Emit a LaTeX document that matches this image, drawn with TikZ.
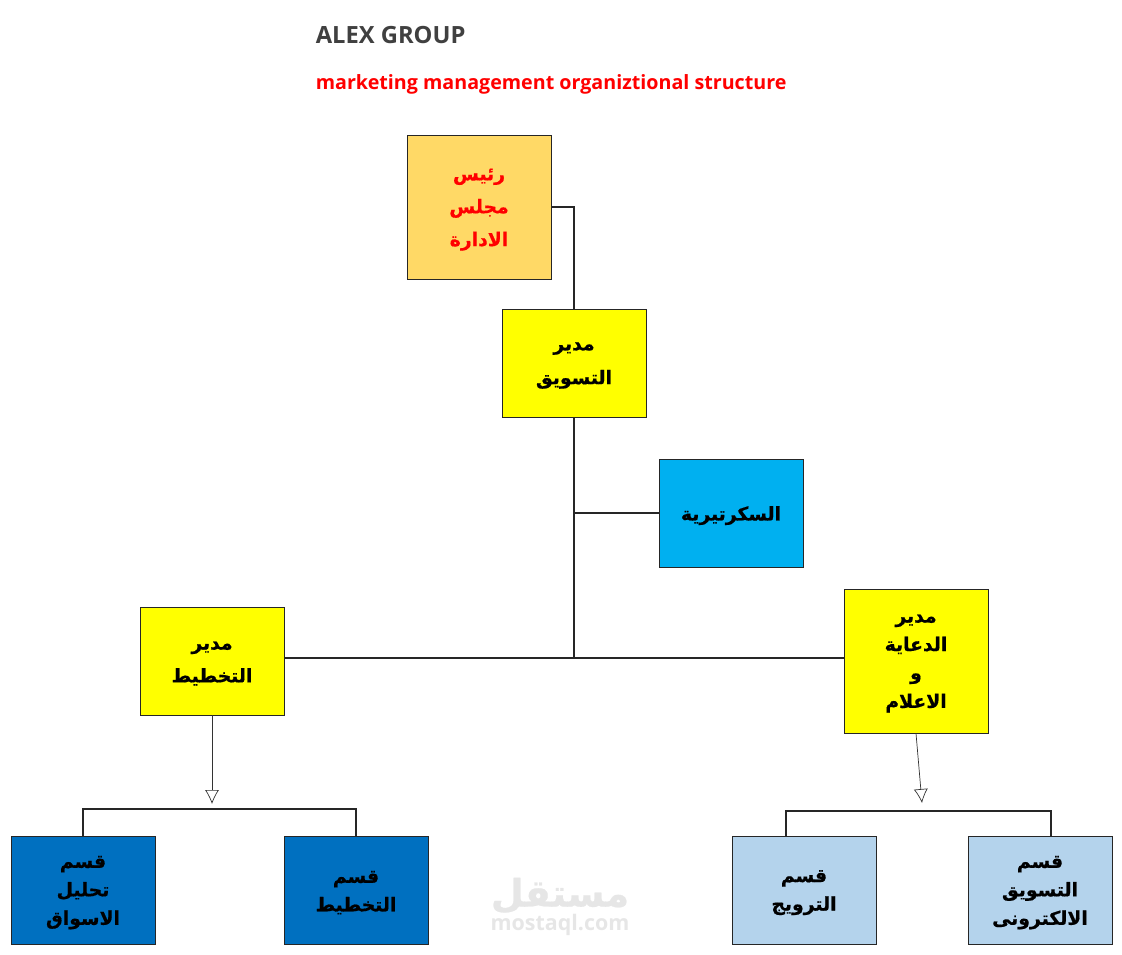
\documentclass[tikz,border=0pt]{standalone}
\usepackage{fontspec}
\usepackage{xcolor}
\usetikzlibrary{arrows.meta,calc,positioning}
\setmainfont{Open Sans}
\newfontfamily\arabicfont[Script=Arabic,BoldFeatures={FakeBold=0.6}]{DejaVu Sans}
\TeXXeTstate=1
\newcommand{\arline}[1]{\raisebox{-1.5pt}[\height][\depth]{\beginR #1\endR}}
\definecolor{chairfill}{HTML}{FFD966}
\definecolor{bossfill}{HTML}{FFFF00}
\definecolor{secfill}{HTML}{00B0F0}
\definecolor{deptdark}{HTML}{0070C0}
\definecolor{deptlight}{HTML}{B4D3EC}
\definecolor{titlegray}{HTML}{404040}
\definecolor{titlered}{HTML}{FF0000}
\definecolor{markgray}{HTML}{E6E6E6}

\begin{document}
\begin{tikzpicture}[x = 0.02cm, y = -0.02cm]
    \tikzset{
        orgbox/.style = {draw = black!85, line width = 0.5pt, minimum width = 2.88cm, minimum height = 2.16cm, inner sep = 0pt, align = center, arfont = 16.2},
        arfont/.style = {font = \arabicfont\bfseries\fontsize{10.7}{#1}\selectfont},
        tallbox/.style = {orgbox, minimum height = 2.88cm},
        link/.style = {draw = black!85, line width = 0.6pt},
        openarrow/.style = {draw = black!80, line width = 0.4pt, -{Latex[open, length = 14*0.02cm, width = 14*0.02cm]}}
    }
    \useasboundingbox (0,0) rectangle (1122,955);

    % titles
    \node[anchor = west, inner sep = 0pt, text = titlegray, font = \bfseries\fontsize{13.5}{16}\selectfont] (Title) at (315.5,35) {ALEX GROUP};
    \node[anchor = west, inner sep = 0pt, text = titlered, font = \bfseries\fontsize{11.2}{14}\selectfont] (SubTitle) at (315.5,84) {marketing management organiztional structure};

    % boxes
    \node[tallbox, fill = chairfill, text = titlered, arfont = 18.7] (Chair) at (479,207) {\arline{رئيس}\\ \arline{مجلس}\\ \arline{الادارة}};
    \node[orgbox, fill = bossfill, arfont = 19.3] (Marketing) at (574,363) {\arline{مدير}\\ \arline{التسويق}};
    \node[orgbox, fill = secfill] (Secretary) at (731,513) {\arline{السكرتيرية}};
    \node[orgbox, fill = bossfill, arfont = 18.7] (Planning) at (212,661) {\arline{مدير}\\ \arline{التخطيط}};
    \node[tallbox, fill = bossfill] (Advert) at (916,661) {\arline{مدير}\\ \arline{الدعاية}\\ \arline{و}\\ \arline{الاعلام}};

    \node[orgbox, fill = deptdark] (Analysis) at (83,890) {\arline{قسم}\\ \arline{تحليل}\\ \arline{الاسواق}};
    \node[orgbox, fill = deptdark] (PlanDept) at (356,890) {\arline{قسم}\\ \arline{التخطيط}};
    \node[orgbox, fill = deptlight] (Promo) at (804,890) {\arline{قسم}\\ \arline{الترويج}};
    \node[orgbox, fill = deptlight] (Online) at (1040,890) {\arline{قسم}\\ \arline{التسويق}\\ \arline{الالكترونى}};

    % watermark
    \node[inner sep = 0pt, text = markgray, font = \arabicfont\bfseries\fontsize{21.5}{26}\selectfont] (MarkAr) at (560,893) {\arline{مستقل}};
    \node[inner sep = 0pt, text = markgray, font = \bfseries\fontsize{12.2}{14}\selectfont] (MarkEn) at (560,925) {mostaql.com};

    % junctions
    \coordinate (Trunk) at (574,658);
    \coordinate (SecJoin) at (574,513);
    \coordinate (ArrowL) at (212,804);
    \coordinate (ArrowR) at (922,803);
    \coordinate (BarL) at (212,809);
    \coordinate (BarR) at (922,811);
    \coordinate (PromoTop) at ($(Promo.north) + (-18,0)$);
    \coordinate (OnlineTop) at ($(Online.north) + (11,0)$);

    % connectors
    \draw[link] (Chair.east) -| (Marketing.north);
    \draw[link, line width = 0.9pt] (Marketing.south) -- (Trunk);
    \draw[link] (SecJoin) -- (Secretary.west);
    \draw[link] (Planning.east |- Trunk) -- (Trunk);
    \draw[link] (Trunk) -- (Advert.west |- Trunk);

    \draw[openarrow] (Planning.south) -- (ArrowL);
    \draw[openarrow] (Advert.south) -- (ArrowR);

    \draw[link] (Analysis.north) |- (BarL) -| (PlanDept.north);
    \draw[link] (PromoTop) |- (BarR) -| (OnlineTop);
\end{tikzpicture}
\end{document}
